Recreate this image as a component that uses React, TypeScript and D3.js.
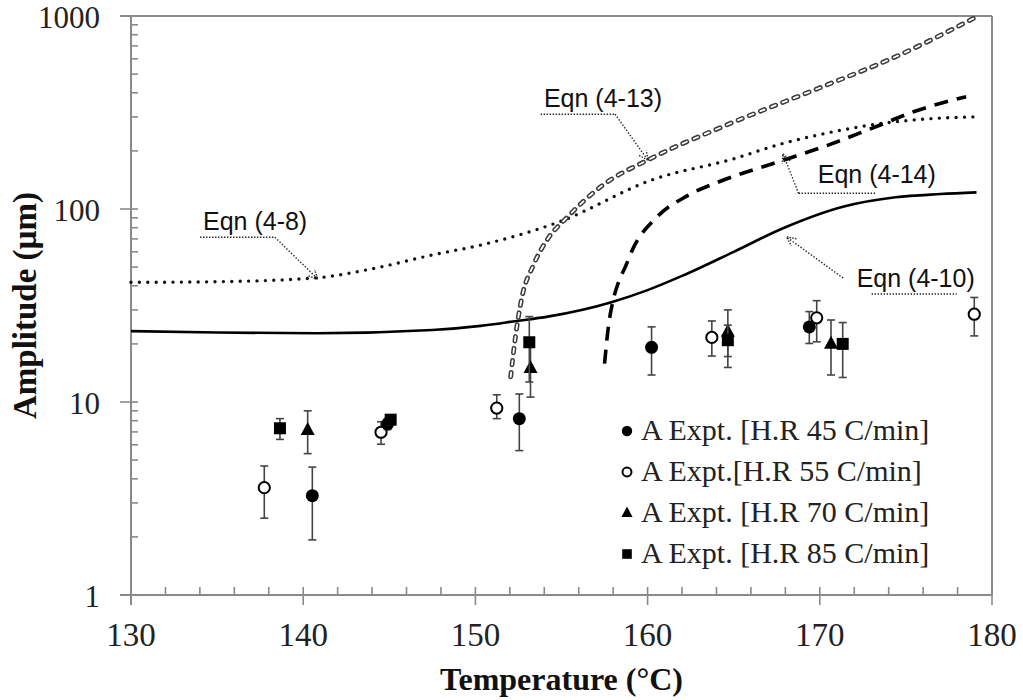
import React from "react";
import * as d3 from "d3";

// ---------- data ----------
const TEMP_DOMAIN: [number, number] = [130, 180];
const AMP_DOMAIN: [number, number] = [1, 1000];
const X_TICKS = [130, 140, 150, 160, 170, 180];
const Y_TICKS = [1, 10, 100, 1000];
const X_MINOR = [132, 134, 136, 138, 142, 144, 146, 148, 152, 154, 156, 158, 162, 164, 166, 168, 172, 174, 176, 178];

// model curves [temperature, amplitude]
const eqn410: [number, number][] = [
  [130, 23.3], [135, 22.9], [140.8, 22.7], [147.5, 23.6], [150.3, 24.8], [152.4, 26.3],
  [154.2, 27.7], [157.9, 32.9], [160, 38], [162, 45], [165, 60], [167.8, 79],
  [171.4, 103], [174.4, 115], [177, 119.5], [179.1, 122],
];
const eqn48: [number, number][] = [
  [130, 41.7], [135, 42], [140.8, 44], [144, 49], [147.5, 57.8], [150.3, 65],
  [154.9, 86], [160.3, 142], [165, 182], [167.8, 218], [170, 243], [173.4, 276],
  [176, 292], [178.9, 300],
];
const eqn413: [number, number][] = [
  [152.05, 13.5], [152.3, 20.9], [152.69, 34.5], [153.36, 51], [154.2, 70], [155.3, 90],
  [157.3, 131], [160.1, 181], [164.35, 267], [170.4, 439], [174.4, 615], [179.1, 990],
];
const eqn414: [number, number][] = [
  [157.5, 15.8], [157.72, 24.5], [158.0, 33.7], [158.3, 41.5], [158.7, 50], [159.1, 61],
  [160.5, 90], [162.3, 117], [164.3, 140], [167.8, 178], [170.4, 213], [173.4, 270],
  [175.4, 318], [178.5, 382],
];

// experiments: temperature, amplitude, error low, error high
const expt45 = [
  { t: 140.53, a: 3.27, lo: 1.93, hi: 4.6 },
  { t: 144.9, a: 7.7, lo: 7.2, hi: 8.2 },
  { t: 152.55, a: 8.2, lo: 5.6, hi: 11.0 },
  { t: 160.23, a: 19.2, lo: 13.8, hi: 24.5 },
  { t: 169.39, a: 24.5, lo: 20.1, hi: 29.4 },
];
const expt55 = [
  { t: 137.74, a: 3.6, lo: 2.5, hi: 4.66 },
  { t: 144.52, a: 6.97, lo: 6.04, hi: 7.9 },
  { t: 151.24, a: 9.3, lo: 8.2, hi: 10.9 },
  { t: 163.73, a: 21.6, lo: 17.3, hi: 26.3 },
  { t: 169.82, a: 27.3, lo: 20.5, hi: 33.5 },
  { t: 178.97, a: 28.5, lo: 22.0, hi: 34.8 },
];
const expt70 = [
  { t: 140.26, a: 7.16, lo: 5.4, hi: 9.0 },
  { t: 153.2, a: 15.0, lo: 10.6, hi: 20.0 },
  { t: 164.66, a: 23.1, lo: 15.1, hi: 30.0 },
  { t: 170.65, a: 20.0, lo: 13.8, hi: 26.6 },
];
const expt85 = [
  { t: 138.65, a: 7.31, lo: 6.4, hi: 8.2 },
  { t: 145.08, a: 8.1, lo: 7.6, hi: 8.5 },
  { t: 153.13, a: 20.4, lo: 12.7, hi: 27.7 },
  { t: 164.66, a: 20.9, lo: 17.2, hi: 25.0 },
  { t: 171.33, a: 20.0, lo: 13.4, hi: 25.8 },
];
const LEGEND_LABELS = [
  "A Expt. [H.R 45 C/min]",
  "A Expt.[H.R 55 C/min]",
  "A Expt. [H.R 70 C/min]",
  "A Expt. [H.R 85 C/min]",
];

// annotations in data coordinates
const ANNOTATIONS = [
  { text: "Eqn (4-13)", textT: 153.98, textA: 337, ulFrom: 153.79, ulTo: 158.11, ulA: 310, fromT: 158.11, fromA: 310, tipT: 160.02, tipA: 179 },
  { text: "Eqn (4-14)", textT: 169.88, textA: 137, ulFrom: 168.77, ulTo: 173.3, ulA: 120.5, fromT: 168.77, fromA: 120.5, tipT: 167.86, tipA: 193 },
  { text: "Eqn (4-10)", textT: 172.14, textA: 39.6, ulFrom: 173.01, ulTo: 177.95, ulA: 36.3, fromT: 171.35, fromA: 43.9, tipT: 168.07, tipA: 71.6 },
  { text: "Eqn (4-8)", textT: 134.18, textA: 77.8, ulFrom: 134.01, ulTo: 138.36, ulA: 71.3, fromT: 138.36, fromA: 71.3, tipT: 140.86, tipA: 43.3 },
];

// ---------- layout ----------
const W = 1023;
const H = 700;
const LEFT = 131, RIGHT = 992, TOP = 16, BOTTOM = 595;
const SERIF = "'Liberation Serif', 'Times New Roman', serif";
const SANS = "'Liberation Sans', Arial, sans-serif";
const AXIS_COLOR = "#8a8a8a";

const x = d3.scaleLinear().domain(TEMP_DOMAIN).range([LEFT, RIGHT]);
const y = d3.scaleLog().domain(AMP_DOMAIN).range([BOTTOM, TOP]);

const line = d3
  .line<[number, number]>()
  .x((d) => x(d[0]))
  .y((d) => y(d[1]))
  .curve(d3.curveMonotoneX);

type Pt = { t: number; a: number; lo: number; hi: number };

function Marker({ kind, cx, cy, s = 1 }: { kind: string; cx: number; cy: number; s?: number }) {
  if (kind === "fc") return <circle cx={cx} cy={cy} r={6.5 * s} fill="#000" />;
  if (kind === "oc")
    return <circle cx={cx} cy={cy} r={5.6 * s} fill="#fff" stroke="#000" strokeWidth={2} />;
  if (kind === "tri") {
    const h = 13 * s, w = 14 * s;
    return (
      <path
        d={`M${cx},${cy - h * 0.62}L${cx + w / 2},${cy + h * 0.38}L${cx - w / 2},${cy + h * 0.38}Z`}
        fill="#000"
      />
    );
  }
  const a = 12 * s;
  return <rect x={cx - a / 2} y={cy - a / 2} width={a} height={a} fill="#000" />;
}

function Series({ data, kind }: { data: Pt[]; kind: string }) {
  return (
    <g>
      {data.map((d, i) => {
        const cx = x(d.t);
        return (
          <g key={i}>
            <line x1={cx} x2={cx} y1={y(d.lo)} y2={y(d.hi)} stroke="#444" strokeWidth={1.6} />
            <line x1={cx - 4} x2={cx + 4} y1={y(d.lo)} y2={y(d.lo)} stroke="#444" strokeWidth={1.6} />
            <line x1={cx - 4} x2={cx + 4} y1={y(d.hi)} y2={y(d.hi)} stroke="#444" strokeWidth={1.6} />
            <Marker kind={kind} cx={cx} cy={y(d.a)} />
          </g>
        );
      })}
    </g>
  );
}

function Arrow({ x1, y1, x2, y2 }: { x1: number; y1: number; x2: number; y2: number }) {
  const ang = Math.atan2(y2 - y1, x2 - x1);
  const L = 10, spread = 0.45;
  const ax = x2 - L * Math.cos(ang - spread), ay = y2 - L * Math.sin(ang - spread);
  const bx = x2 - L * Math.cos(ang + spread), by = y2 - L * Math.sin(ang + spread);
  return (
    <g>
      <line x1={x1} y1={y1} x2={x2} y2={y2} stroke="#222" strokeWidth={1.4} strokeDasharray="1.4 1.8" />
      <path d={`M${ax},${ay}L${x2},${y2}L${bx},${by}`} fill="none" stroke="#222" strokeWidth={1.4} strokeDasharray="1.4 1.4" />
    </g>
  );
}

export default function App() {
  const minorY: number[] = [];
  [1, 10, 100].forEach((dec) => {
    for (let k = 2; k <= 9; k++) minorY.push(dec * k);
  });

  return (
    <svg
      width={W}
      height={H}
      viewBox={`0 0 ${W} ${H}`}
      style={{ position: "absolute", left: 0, top: 0, background: "#fff" }}
    >
      <rect x={0} y={0} width={W} height={H} fill="#fff" />

      {/* frame */}
      <line x1={120} x2={RIGHT} y1={TOP} y2={TOP} stroke={AXIS_COLOR} strokeWidth={2} />
      <line x1={RIGHT} x2={RIGHT} y1={TOP} y2={BOTTOM} stroke={AXIS_COLOR} strokeWidth={2} />
      <line x1={120} x2={RIGHT} y1={BOTTOM} y2={BOTTOM} stroke={AXIS_COLOR} strokeWidth={2} />
      <line x1={LEFT} x2={LEFT} y1={TOP} y2={605} stroke={AXIS_COLOR} strokeWidth={2} />

      {/* y ticks */}
      {Y_TICKS.map((v) => (
        <g key={"yt" + v}>
          <line x1={120} x2={138} y1={y(v)} y2={y(v)} stroke={AXIS_COLOR} strokeWidth={1.6} />
          <text
            x={100}
            y={y(v) + 11.5}
            textAnchor="end"
            fontFamily={SERIF}
            fontSize={31}
            fill="#222"
          >
            {v}
          </text>
        </g>
      ))}
      {minorY.map((v) => (
        <line key={"ym" + v} x1={LEFT} x2={138} y1={y(v)} y2={y(v)} stroke={AXIS_COLOR} strokeWidth={1.6} />
      ))}

      {/* x ticks */}
      {X_TICKS.map((v) => (
        <g key={"xt" + v}>
          <line x1={x(v)} x2={x(v)} y1={587} y2={605} stroke={AXIS_COLOR} strokeWidth={1.6} />
          <text x={x(v)} y={646} textAnchor="middle" fontFamily={SERIF} fontSize={33} fill="#222">
            {v}
          </text>
        </g>
      ))}
      {X_MINOR.map((v) => (
        <line key={"xm" + v} x1={x(v)} x2={x(v)} y1={587} y2={BOTTOM} stroke={AXIS_COLOR} strokeWidth={1.6} />
      ))}

      {/* axis titles */}
      <text
        x={(LEFT + RIGHT) / 2}
        y={690}
        textAnchor="middle"
        fontFamily={SERIF}
        fontWeight="bold"
        fontSize={32}
        fill="#111"
      >
        Temperature (°C)
      </text>
      <text
        transform={`translate(36, ${(TOP + BOTTOM) / 2}) rotate(-90)`}
        textAnchor="middle"
        fontFamily={SERIF}
        fontWeight="bold"
        fontSize={33}
        fill="#111"
      >
        Amplitude (µm)
      </text>

      {/* model curves */}
      <path d={line(eqn48) || ""} fill="none" stroke="#111" strokeWidth={3.4} strokeLinecap="round" strokeDasharray="0 8.4" />
      <path d={line(eqn410) || ""} fill="none" stroke="#000" strokeWidth={2.6} />
      <path d={line(eqn413) || ""} fill="none" stroke="#3a3a3a" strokeWidth={4.8} strokeLinecap="round" strokeDasharray="4.5 7.5" />
      <path d={line(eqn413) || ""} fill="none" stroke="#fff" strokeWidth={1.8} strokeLinecap="round" strokeDasharray="4.5 7.5" />
      <path d={line(eqn414) || ""} fill="none" stroke="#000" strokeWidth={3.6} strokeDasharray="14 9" />

      {/* annotations */}
      {ANNOTATIONS.map((an) => (
        <g key={an.text}>
          <text x={x(an.textT)} y={y(an.textA)} fontFamily={SANS} fontSize={25} fill="#111">
            {an.text}
          </text>
          <line
            x1={x(an.ulFrom)}
            x2={x(an.ulTo)}
            y1={y(an.ulA)}
            y2={y(an.ulA)}
            stroke="#222"
            strokeWidth={1.5}
            strokeDasharray="1.4 1.6"
          />
          <Arrow x1={x(an.fromT)} y1={y(an.fromA)} x2={x(an.tipT)} y2={y(an.tipA)} />
        </g>
      ))}

      {/* experiments */}
      <Series data={expt55} kind="oc" />
      <Series data={expt45} kind="fc" />
      <Series data={expt70} kind="tri" />
      <Series data={expt85} kind="sq" />

      {/* legend */}
      {["fc", "oc", "tri", "sq"].map((k, i) => {
        const cy = 431 + i * 41;
        return (
          <g key={"lg" + k}>
            <Marker kind={k} cx={627} cy={cy} s={0.8} />
            <text x={641} y={cy + 9} fontFamily={SERIF} fontSize={30} fill="#222">
              {LEGEND_LABELS[i]}
            </text>
          </g>
        );
      })}
    </svg>
  );
}
